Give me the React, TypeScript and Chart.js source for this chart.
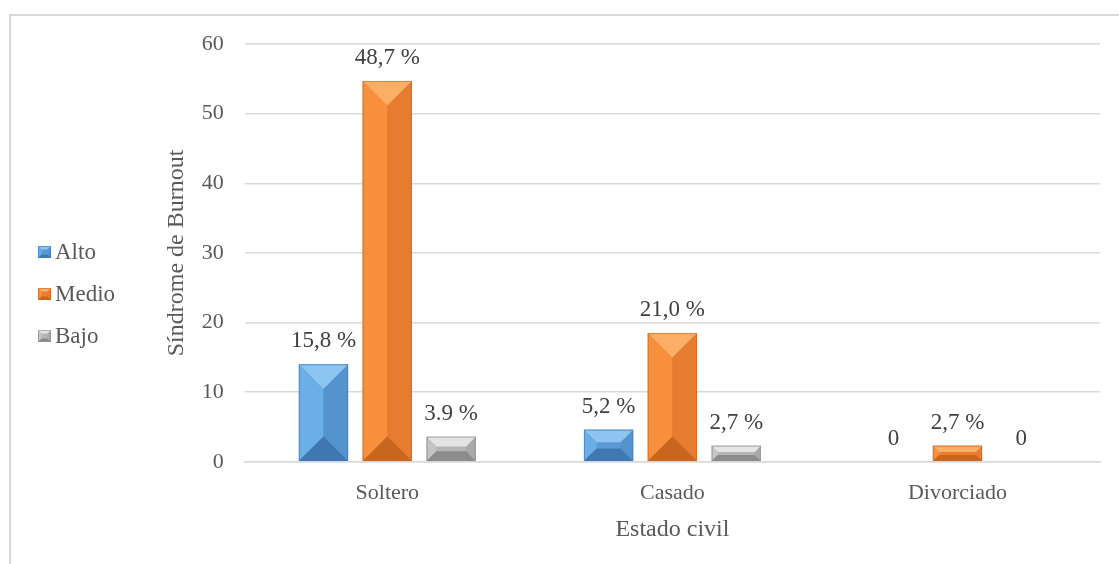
import React, { useEffect, useRef } from "react";
import { Chart, registerables } from "chart.js";

Chart.register(...registerables);

const categories = ["Soltero", "Casado", "Divorciado"];
const seriesNames = ["Alto", "Medio", "Bajo"];
const altoValues = [14.0, 4.6, 0];
const medioValues = [54.7, 18.5, 2.3];
const bajoValues = [3.6, 2.3, 0];
const altoLabels = ["15,8 %", "5,2 %", "0"];
const medioLabels = ["48,7 %", "21,0 %", "2,7 %"];
const bajoLabels = ["3.9 %", "2,7 %", "0"];
const yTicks = [0, 10, 20, 30, 40, 50, 60];

const FONT = "'Liberation Serif', 'Times New Roman', serif";
const TEXT = "#595959";

// [face, top, left, right, bottom]
const SHADES = [
  ["#5b9bd5", "#8cc4f2", "#6aaee8", "#5593cf", "#3f78b0"],
  ["#ed7d31", "#fbae66", "#f78f3c", "#e57c2f", "#c8661f"],
  ["#b5b5b5", "#e4e4e4", "#c4c4c4", "#a9a9a9", "#8c8c8c"],
];
const allLabels = [altoLabels, medioLabels, bajoLabels];

function poly(ctx: CanvasRenderingContext2D, pts: number[][], color: string) {
  ctx.beginPath();
  ctx.moveTo(pts[0][0], pts[0][1]);
  for (let i = 1; i < pts.length; i++) ctx.lineTo(pts[i][0], pts[i][1]);
  ctx.closePath();
  ctx.fillStyle = color;
  ctx.fill();
}

function drawBevel(ctx: CanvasRenderingContext2D, l: number, t: number, r: number, b: number, sh: string[], tall: boolean) {
  const w = r - l;
  const h = b - t;
  const d = tall ? Math.min(w / 2, h * 0.4) : Math.min(w, h) * 0.3;
  poly(ctx, [[l, t], [r, t], [r, b], [l, b]], sh[0]);
  poly(ctx, [[l, t], [l + d, t + d], [l + d, b - d], [l, b]], sh[2]);
  poly(ctx, [[r, t], [r - d, t + d], [r - d, b - d], [r, b]], sh[3]);
  poly(ctx, [[l, t], [r, t], [r - d, t + d], [l + d, t + d]], sh[1]);
  poly(ctx, [[l, b], [r, b], [r - d, b - d], [l + d, b - d]], sh[4]);
  ctx.strokeStyle = sh[4];
  ctx.globalAlpha = 0.6;
  ctx.lineWidth = 1;
  ctx.strokeRect(l + 0.5, t + 0.5, w - 1, h - 1);
  ctx.globalAlpha = 1;
}

const bevelPlugin = {
  id: "bevel",
  afterDatasetsDraw(chart: any) {
    const ctx = chart.ctx as CanvasRenderingContext2D;
    ctx.save();
    chart.data.datasets.forEach((ds: any, di: number) => {
      const meta = chart.getDatasetMeta(di);
      meta.data.forEach((el: any, i: number) => {
        const v = ds.data[i];
        if (!v) return;
        const p = el.getProps(["x", "y", "base", "width"], true);
        const l = p.x - p.width / 2;
        const r = p.x + p.width / 2;
        const t = Math.min(p.y, p.base);
        const b = Math.max(p.y, p.base);
        drawBevel(ctx, l, t, r, b, SHADES[di], true);
      });
    });
    ctx.restore();
  },
  afterDraw(chart: any) {
    const ctx = chart.ctx as CanvasRenderingContext2D;
    ctx.save();
    // data labels
    ctx.font = `23px ${FONT}`;
    ctx.fillStyle = "#404040";
    ctx.textAlign = "center";
    ctx.textBaseline = "middle";
    chart.data.datasets.forEach((ds: any, di: number) => {
      const meta = chart.getDatasetMeta(di);
      meta.data.forEach((el: any, i: number) => {
        const p = el.getProps(["x", "y"], true);
        ctx.fillText(allLabels[di][i], p.x, p.y - 23);
      });
    });
    // legend
    const rowY = [252, 294, 336];
    ctx.font = `23px ${FONT}`;
    ctx.textAlign = "left";
    seriesNames.forEach((n, i) => {
      drawBevel(ctx, 38, rowY[i] - 6, 51, rowY[i] + 6, SHADES[i], false);
      ctx.fillStyle = TEXT;
      ctx.fillText(n, 55, rowY[i] + 1);
    });
    ctx.restore();
  },
};

export default function App() {
  const ref = useRef<HTMLCanvasElement>(null);
  useEffect(() => {
    if (!ref.current) return;
    const chart = new Chart(ref.current, {
      type: "bar",
      data: {
        labels: categories,
        datasets: [
          { label: seriesNames[0], data: altoValues, backgroundColor: SHADES[0][0] },
          { label: seriesNames[1], data: medioValues, backgroundColor: SHADES[1][0] },
          { label: seriesNames[2], data: bajoValues, backgroundColor: SHADES[2][0] },
        ],
      },
      options: {
        responsive: false,
        animation: false,
        devicePixelRatio: 1,
        categoryPercentage: 0.672,
        barPercentage: 0.77,
        layout: { padding: { left: 162, right: 19, top: 44, bottom: 20 } },
        plugins: { legend: { display: false }, tooltip: { enabled: false } },
        scales: {
          x: {
            grid: { display: false },
            border: { display: true, color: "#d9d9d9", width: 1.5 },
            ticks: { color: TEXT, font: { family: FONT, size: 22 }, padding: 10 },
            title: { display: true, text: "Estado civil", color: TEXT, font: { family: FONT, size: 24 }, padding: { top: -1, bottom: 0 } },
          },
          y: {
            min: 0,
            max: 60,
            afterBuildTicks: (s: any) => { s.ticks = yTicks.map((v) => ({ value: v })); },
            grid: { color: "#d9d9d9", lineWidth: 1.5, drawTicks: false },
            border: { display: false },
            ticks: { color: TEXT, font: { family: FONT, size: 22 }, padding: 21 },
            title: { display: true, text: "Síndrome de Burnout", color: TEXT, font: { family: FONT, size: 24 }, padding: { top: 0, bottom: -10 } },
          },
        },
      },
      plugins: [bevelPlugin],
    });
    return () => chart.destroy();
  }, []);
  return (
    <div style={{ position: "fixed", left: 0, top: 0, width: 1119, height: 564, background: "#fff", overflow: "hidden" }}>
      <div style={{ position: "absolute", left: 9, top: 14, width: 1130, height: 600, borderTop: "2px solid #d9d9d9", borderLeft: "2px solid #d9d9d9" }} />
      <canvas ref={ref} width={1119} height={564} style={{ position: "absolute", left: 0, top: 0 }} />
    </div>
  );
}
